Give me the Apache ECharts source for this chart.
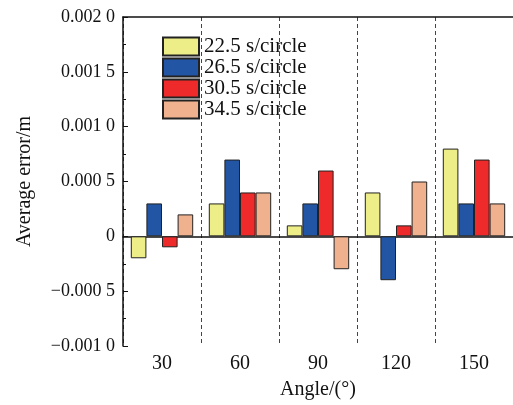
<!DOCTYPE html>
<html>
<head>
<meta charset="utf-8">
<script src="https://cdn.jsdelivr.net/npm/echarts@6/dist/echarts.min.js"></script>
<style>
  html, body { margin: 0; padding: 0; background: #fff; }
  #chart { width: 513px; height: 405px; }
</style>
</head>
<body>
<div id="chart"></div>
<script>
// angles on the x axis
var angles = ["30", "60", "90", "120", "150"];
var seriesNames = ["22.5 s/circle", "26.5 s/circle", "30.5 s/circle", "34.5 s/circle"];
// average error per angle, one array per rotation period
var err225 = [-0.0002, 0.0003, 0.0001, 0.0004, 0.0008];
var err265 = [0.0003, 0.0007, 0.0003, -0.0004, 0.0003];
var err305 = [-0.0001, 0.0004, 0.0006, 0.0001, 0.0007];
var err345 = [0.0002, 0.0004, -0.0003, 0.0005, 0.0003];
var colors = ["#EEEE88", "#2255A4", "#EE2A2A", "#F0B28E"];

var font = "Liberation Serif";

// "0.002 0" style labels
function yLabel(v) {
  if (Math.abs(v) < 1e-12) return "0";
  var s = Math.abs(v).toFixed(4);
  s = s.slice(0, 5) + " " + s.slice(5);
  return (v < 0 ? "\u2212" : "") + s;
}

var chart = echarts.init(document.getElementById("chart"));
var allData = [err225, err265, err305, err345];

var option = {
  backgroundColor: "#fff",
  animation: false,
  color: colors,
  grid: { left: 123, top: 17, width: 393, height: 333 },
  legend: {
    left: 157,
    top: 31,
    orient: "vertical",
    itemWidth: 36,
    itemHeight: 18,
    itemGap: 0,
    icon: "rect",
    textStyle: { fontFamily: font, fontSize: 21, color: "#111" },
    data: seriesNames
  },
  xAxis: [{
    type: "category",
    data: angles,
    name: "Angle/(\u00b0)",
    nameLocation: "middle",
    nameGap: 34,
    nameTextStyle: { fontFamily: font, fontSize: 20, color: "#111" },
    axisLine: { lineStyle: { color: "#111", width: 1.5 } },
    axisTick: { inside: true, alignWithLabel: true, length: 5, lineStyle: { color: "#111" } },
    axisLabel: { fontFamily: font, fontSize: 20, color: "#111", margin: 8 },
    splitLine: { show: true, lineStyle: { color: "#444", type: [4, 3], width: 1 } }
  }, {
    type: "category",
    data: angles,
    position: "top",
    axisLine: { lineStyle: { color: "#111", width: 1.5 } },
    axisTick: { show: false },
    axisLabel: { show: false },
    splitLine: { show: false }
  }],
  yAxis: {
    type: "value",
    min: -0.001,
    max: 0.002,
    interval: 0.0005,
    name: "Average error/m",
    nameLocation: "middle",
    nameGap: 88,
    nameTextStyle: { fontFamily: font, fontSize: 20, color: "#111" },
    axisLine: { show: true, lineStyle: { color: "#111", width: 1.5 } },
    axisTick: { show: true, inside: true, length: 5, lineStyle: { color: "#111" } },
    minorTick: { show: true, splitNumber: 2, length: 3, lineStyle: { color: "#111" } },
    axisLabel: { fontFamily: font, fontSize: 18, color: "#111", margin: 8, formatter: yLabel },
    splitLine: { show: false }
  },
  series: seriesNames.map(function (name, i) {
    return {
      name: name,
      type: "bar",
      data: allData[i],
      barGap: "0%",
      barCategoryGap: "20%",
      itemStyle: { color: colors[i], borderColor: "#222", borderWidth: 1 }
    };
  })
};

chart.setOption(option);
</script>
</body>
</html>
